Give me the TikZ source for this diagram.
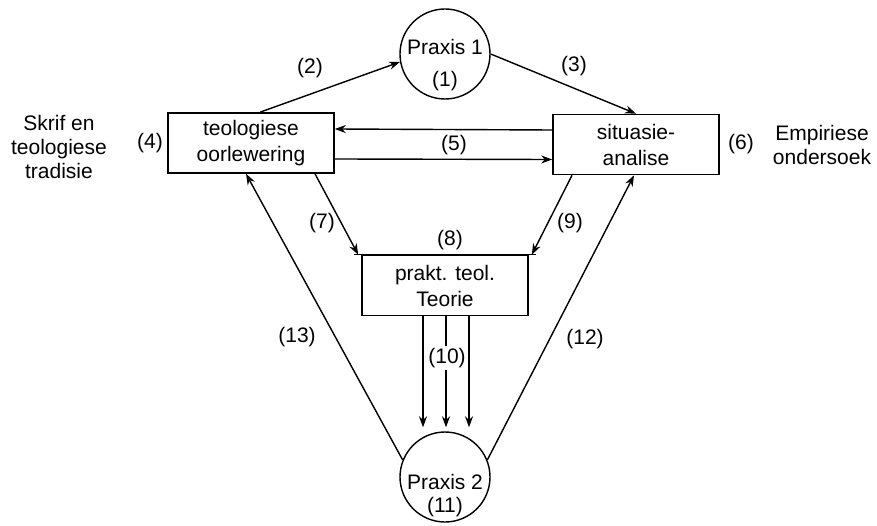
\documentclass[tikz,border=0pt]{standalone}
\usepackage{fontspec}
\setmainfont{Liberation Sans}
\usetikzlibrary{arrows.meta}
\begin{document}
\begin{tikzpicture}[x=1pt,y=-1pt,
  every node/.style={font=\fontsize{21}{26}\selectfont, inner sep=0pt},
  box/.style={draw, line width=1.6pt, minimum width=166pt, minimum height=60pt, align=center},
  circ/.style={draw, circle, line width=1.4pt, minimum size=90pt},
  lab/.style={align=center},
  arr/.style={line width=1.4pt, -{Stealth[length=11pt,width=8pt]}},
  ln/.style={line width=1.4pt}]
\useasboundingbox (0,0) rectangle (877,526);
\fill[white] (0,0) rectangle (877,526);
% nodes
\node[circ] (p1) at (445,54) {};
\node[lab] (p1t) at (445,47) {Praxis 1};
\node[lab] (p1n) at (445,81) {(1)};
\node[box] (teo) at (251,143) {teologiese\\oorlewering};
\node[box] (sit) at (636,144.5) {situasie-\\analise};
\node[box] (prk) at (445,285.5) {prakt. teol.\\Teorie};
\node[circ] (p2) at (445,477) {};
\node[lab] (p2t) at (445,482) {Praxis 2};
\node[lab] (p2n) at (445,507) {(11)};
% side texts
\node[lab, font=\fontsize{21}{24}\selectfont] (skrif) at (59,147) {Skrif en\\teologiese\\tradisie};
\node[lab, font=\fontsize{21}{24}\selectfont] (emp) at (822,145) {Empiriese\\ondersoek};
% connectors
\draw[arr] ([xshift=9pt]teo.north) -- (p1.190);
\draw[arr] (p1.0) -- (sit.north);
\draw[arr] ([yshift=14.5pt]sit.west) -- ([yshift=14pt]teo.east);
\draw[arr] ([yshift=-16pt]teo.east) -- ([yshift=-15pt]sit.west);
\coordinate (c7) at ([xshift=-7pt]prk.north west);
\coordinate (c9) at ([xshift=7pt]prk.north east);
\draw[ln] (c7) -- (c9);
\draw[arr] ([xshift=64pt]teo.south) -- ([xshift=4pt]c7);
\draw[arr] ([xshift=-64pt]sit.south) -- ([xshift=-4pt]c9);
\foreach \dx in {-22,1,24}{
  \draw[arr] ([xshift=\dx pt]prk.south) -- ([xshift=\dx pt,yshift=4pt]p2.north);
}
\draw[arr] (p2.158) -- ([xshift=-5pt]teo.south);
\draw[arr] (p2.22) -- ([xshift=-2pt]sit.south);
% labels
\node (l2) at (310,68) {(2)};
\node (l3) at (574,66) {(3)};
\node (l4) at (150,143) {(4)};
\node (l5) at (454,145) {(5)};
\node (l6) at (741,144) {(6)};
\node (l7) at (322,223) {(7)};
\node (l8) at (450,240) {(8)};
\node (l9) at (570,223) {(9)};
\node[fill=white, inner xsep=0.5pt, inner ysep=2pt] (l10) at (447,358) {(10)};
\node (l12) at (585,339) {(12)};
\node (l13) at (297,337) {(13)};
\end{tikzpicture}
\end{document}
